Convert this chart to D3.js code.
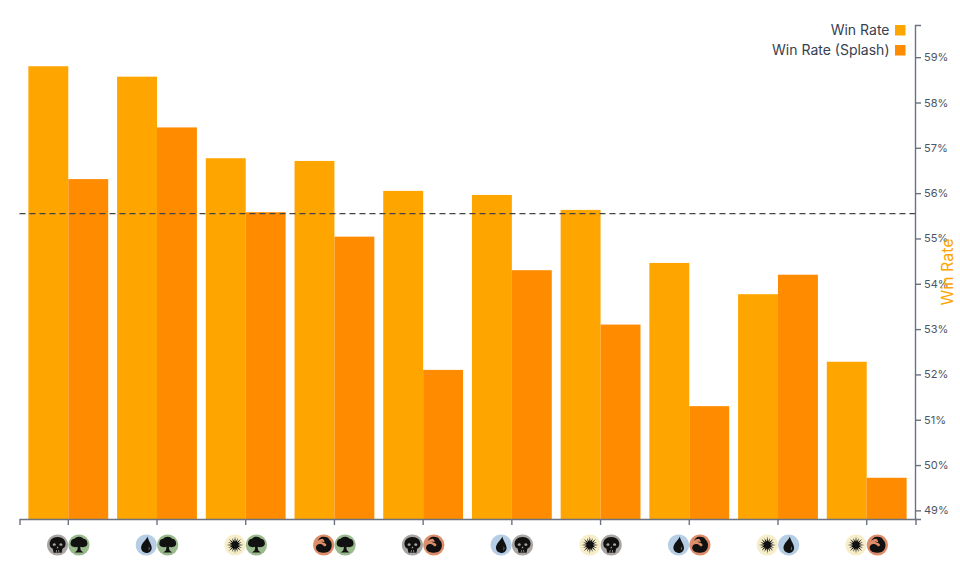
<!DOCTYPE html>
<html><head><meta charset="utf-8">
<script src="https://cdn.jsdelivr.net/npm/d3@7"></script>
<style>html,body{margin:0;padding:0;background:#fff}svg{display:block}text{font-family:Inter,"Noto Sans",sans-serif}</style>
</head><body><svg id="c" width="960" height="577"></svg>
<script>
const categories = ["BG","UG","WG","RG","BR","UB","WB","UR","WU","WR"];
const winRate = [58.80,58.57,56.77,56.71,56.05,55.96,55.63,54.46,53.77,52.28];
const winRateSplash = [56.31,57.45,55.58,55.04,52.10,54.30,53.10,51.30,54.20,49.72];
const baseline = 55.55;
const yTicks = [49,50,51,52,53,54,55,56,57,58,59];
const seriesNames = ["Win Rate","Win Rate (Splash)"];
const seriesColors = ["#ffa500","#ff8c00"];
const manaColors = {W:"#f6edc9",U:"#b5cde5",B:"#a9a5a2",R:"#de8d6b",G:"#9aba8e"};
const sunRays = d3.range(16).map(i=>{
  const a = i*Math.PI/8, r = i%2?7.6:8.4, s = 0.26;
  const p = (rad,t)=>`${(rad*Math.cos(t)).toFixed(2)},${(rad*Math.sin(t)).toFixed(2)}`;
  return `M${p(r,a)}L${p(3,a+s)}L${p(3,a-s)}Z`;
}).join("");
const glyphs = {
 B:"M0,-8C-5,-8-8,-4.8-8,-1C-8,1.8-6.2,3-4.8,3.8L-4,7.8L4,7.8L4.8,3.8C6.2,3,8,1.8,8,-1C8,-4.8,5,-8,0,-8ZM-3.2,-1.8C-4.6,-1.8-5,-0.8-4.8,0.2C-4.2,1-2.8,1-1.9,0.2C-1.5,-0.8-2,-1.8-3.2,-1.8ZM3.2,-1.8C2,-1.8,1.5,-0.8,1.9,0.2C2.8,1,4.2,1,4.8,0.2C5,-0.8,4.6,-1.8,3.2,-1.8ZM0,1.2L-1,3.2L1,3.2ZM-1.4,5L-1.8,7.4L-1,7.4L-0.7,5ZM0.7,5L1,7.4L1.8,7.4L1.4,5Z",
 G:"M0,-8.2C-2.6,-8.2-3.8,-7-4.4,-6.2C-6.4,-6.2-8,-4.8-8.2,-2.8C-9,-1,-8,1.4-5.8,1.8C-4.2,2.6-2.6,2.2-1.4,1.8C-1.2,3.4-1.5,5-2.2,5.8L-4.4,7.4L4.4,7.4L2.2,5.8C1.5,5,1.2,3.4,1.4,1.8C2.6,2.2,4.2,2.6,5.8,1.8C8,1.4,9,-1,8.2,-2.8C8,-4.8,6.4,-6.2,4.4,-6.2C3.8,-7,2.6,-8.2,0,-8.2Z",
 U:"M1.2,-8.6C0.8,-5.8-5.2,-2-5.2,2.6C-5.2,6-2.6,8,0.2,8C3.2,8,5.4,5.8,5.4,3C5.4,-1,2.2,-3.8,1.2,-8.6ZM2.4,1.4C3.6,2.8,3.4,4.6,2,5.6C2.8,4.2,2.8,3,2.4,1.4Z",
 W:"M3.6,0A3.6,3.6,0,1,1,-3.6,0A3.6,3.6,0,1,1,3.6,0Z"+sunRays,
 R:"M-1.5,-8.2C1.5,-8.8,5.4,-7.6,5.8,-5C8.2,-3,8.8,1,7.2,4C5.8,6.8,2.4,8,-1,7.8C-4.6,7.8-7.8,5.8-7.8,2.6C-7.8,-0.4-4.8,-1.8-2.2,-0.8C-0.8,-0.2,0.2,1,1,1.4C2.4,1.2,3,0,2.2,-1C1.2,-2.2,-1.2,-2.4,-2.6,-3.6C-1.4,-3.4,-0.2,-3.2,0.8,-2.8C0.8,-4.2,0,-5.4,-1,-6.2C-2.8,-6.2,-4.8,-5.4,-6,-4C-5.4,-6.2,-3.4,-7.8,-1.5,-8.2Z"
};
const m = {l:19.5,r:915.5,t:25,b:519};
const svg = d3.select("#c");
const x = d3.scaleBand().domain(categories).range([m.l,m.r]).padding(0.1);
const inner = d3.scaleBand().domain([0,1]).range([0,x.bandwidth()]);
const y = d3.scaleLinear().domain([48.81,59.71]).range([m.b,m.t]);

[winRate,winRateSplash].forEach((vals,s)=>{
  svg.append("g").selectAll("rect").data(vals).join("rect")
    .attr("x",(d,i)=>x(categories[i])+inner(s))
    .attr("width",inner.bandwidth())
    .attr("y",d=>y(d))
    .attr("height",d=>y(y.domain()[0])-y(d))
    .attr("fill",seriesColors[s]);
});
svg.append("line")
  .attr("x1",m.l).attr("x2",m.r).attr("y1",y(baseline)).attr("y2",y(baseline))
  .attr("stroke","#444").attr("stroke-width",1.2).attr("stroke-dasharray","6,4");

const style = g=>{g.selectAll("path,line").attr("stroke","#6b7280").attr("stroke-width",1.4);
  g.selectAll("text").attr("fill","#4b5563").attr("font-size",11).attr("font-family",'Inter,"Noto Sans",sans-serif');};
svg.append("g").attr("transform",`translate(0,${m.b})`)
  .call(d3.axisBottom(x).tickFormat("")).call(style);
svg.append("g").attr("transform",`translate(${m.r-0.5},0)`)
  .call(d3.axisRight(y).tickValues(yTicks).tickFormat(d=>d+"%")).call(style);

const iconY = 545, iconOffset = 10.7, iconR = 10.6;
const cat = svg.append("g").selectAll("g").data(categories).join("g")
  .attr("transform",d=>`translate(${x(d)+x.bandwidth()/2},${iconY})`);
[0,1].forEach(k=>{
  const g = cat.append("g").attr("transform",`translate(${k?iconOffset:-iconOffset},0)`);
  g.append("circle").attr("r",iconR).attr("fill",d=>manaColors[d[k]]);
  g.append("path").attr("d",d=>glyphs[d[k]]).attr("fill","#111")
    .attr("fill-rule",d=>d[k]==="W"?"nonzero":"evenodd");
});

const lg = svg.append("g").selectAll("g").data(seriesNames).join("g")
  .attr("transform",(d,i)=>`translate(895,${25+i*20})`);
lg.append("rect").attr("width",10.5).attr("height",10.5).attr("fill",(d,i)=>seriesColors[i]);
lg.append("text").text(d=>d).attr("x",-5.5).attr("y",5.5).attr("dy","0.32em")
  .attr("text-anchor","end").attr("font-size",14).attr("fill","#374151");

svg.append("text").text("Win Rate")
  .attr("transform",`translate(953,272) rotate(-90)`)
  .attr("text-anchor","middle").attr("font-size",16).attr("fill","#ffa500");
</script></body></html>
